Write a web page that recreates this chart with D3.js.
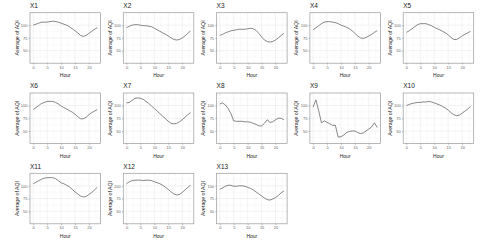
<!DOCTYPE html>
<html>
<head>
<meta charset="utf-8">
<script src="https://cdn.jsdelivr.net/npm/d3@7"></script>
<style>
  body { margin: 0; background: #fff; }
  text { font-family: "Liberation Sans", Arial, sans-serif; }
</style>
</head>
<body>
<div id="chart"></div>
<script>
// ============ Data =====================
var hours = [0,1,2,3,4,5,6,7,8,9,10,11,12,13,14,15,16,17,18,19,20,21,22,23];

var x1  = [100,102,104,106,106,106,107,108,107,106,104,102,100,97,93,89,85,80,78,80,84,88,92,95];
var x2  = [95,98,100,101,101,100,99,99,98,97,94,91,88,85,82,79,75,72,71,72,75,79,84,89];
var x3  = [80,82,85,87,89,90,91,92,92,92,93,94,93,90,84,77,71,68,67,68,71,75,80,84];
var x4  = [91,95,99,103,106,107,107,106,105,103,100,98,96,93,89,84,79,75,74,76,79,82,86,89];
var x5  = [86,89,93,97,101,103,103,103,101,99,96,93,91,88,85,81,76,72,72,75,79,82,85,88];
var x6  = [92,96,100,104,106,108,108,108,106,103,99,96,93,90,87,83,78,74,74,77,82,86,89,92];
var x7  = [105,106,110,114,115,114,112,108,104,99,94,89,84,79,74,69,65,64,65,68,72,77,82,86];
var x8  = [103,105,101,94,84,70,69,69,69,68,68,67,65,63,60,60,65,72,67,68,72,75,75,72];
var x9  = [97,111,90,66,70,67,64,61,61,38,39,42,47,49,50,50,47,45,46,50,54,58,66,57];
var x10 = [100,102,104,105,106,106,107,107,108,107,105,103,101,98,95,91,86,82,80,81,85,89,93,98];
var x11 = [104,107,110,113,115,116,116,116,114,110,106,104,101,98,93,88,84,80,78,79,83,87,92,97];
var x12 = [104,108,110,111,111,111,110,111,111,110,108,106,104,101,97,93,88,84,82,83,87,92,97,101];
var x13 = [93,96,99,101,101,99,99,100,100,99,97,95,92,88,84,80,76,73,72,74,77,81,86,90];

var titles = ["X1","X2","X3","X4","X5","X6","X7","X8","X9","X10","X11","X12","X13"];
var seriesList = [x1,x2,x3,x4,x5,x6,x7,x8,x9,x10,x11,x12,x13];

var xTicks = [0,5,10,15,20];
var xMinor = [2.5,7.5,12.5,17.5,22.5];
var yTicks = [50,75,100];
var yMinor = [37.5,62.5,87.5,112.5];

//============ Set up chart =====================
var svgWidth = 480;
var svgHeight = 242;
var nCols = 5;
var colStep = 93.3;
var rowStep = 80.3;

var panel = { left: 30, top: 12.7, width: 70.5, height: 50.5 };

var svg = d3.select("#chart")
  .append("svg")
  .attr("width", svgWidth)
  .attr("height", svgHeight);

// ylim(30,120) with ggplot's 5% expansion, x 0..23 likewise
var xScale = d3.scaleLinear().domain([-1.15, 24.15]).range([0, panel.width]);
var yScale = d3.scaleLinear().domain([25.5, 124.5]).range([panel.height, 0]);

var line = d3.line()
  .x((d, i) => xScale(hours[i]))
  .y(d => yScale(d));

seriesList.forEach(function(values, k) {
  var col = k % nCols;
  var row = Math.floor(k / nCols);
  var g = svg.append("g")
    .attr("transform", `translate(${panel.left + col * colStep}, ${panel.top + row * rowStep})`);

  // minor grid
  g.selectAll(".vminor").data(xMinor).enter().append("line")
    .attr("x1", d => xScale(d)).attr("x2", d => xScale(d))
    .attr("y1", 0).attr("y2", panel.height)
    .attr("stroke", "#f3f3f3").attr("stroke-width", 0.4);
  g.selectAll(".hminor").data(yMinor).enter().append("line")
    .attr("y1", d => yScale(d)).attr("y2", d => yScale(d))
    .attr("x1", 0).attr("x2", panel.width)
    .attr("stroke", "#f3f3f3").attr("stroke-width", 0.4);

  // major grid
  g.selectAll(".vmajor").data(xTicks).enter().append("line")
    .attr("x1", d => xScale(d)).attr("x2", d => xScale(d))
    .attr("y1", 0).attr("y2", panel.height)
    .attr("stroke", "#e6e6e6").attr("stroke-width", 0.5);
  g.selectAll(".hmajor").data(yTicks).enter().append("line")
    .attr("y1", d => yScale(d)).attr("y2", d => yScale(d))
    .attr("x1", 0).attr("x2", panel.width)
    .attr("stroke", "#e6e6e6").attr("stroke-width", 0.5);

  // the line
  g.append("path")
    .datum(values)
    .attr("d", line)
    .attr("fill", "none")
    .attr("stroke", "#555")
    .attr("stroke-width", 0.7);

  // border
  g.append("rect")
    .attr("width", panel.width).attr("height", panel.height)
    .attr("fill", "none")
    .attr("stroke", "#9a9a9a")
    .attr("stroke-width", 0.7);

  // axes
  var bottomAxis = d3.axisBottom(xScale).tickValues(xTicks).tickSize(1.3).tickPadding(1.2);
  var leftAxis = d3.axisLeft(yScale).tickValues(yTicks).tickSize(1.3).tickPadding(1.2);

  var xa = g.append("g")
    .attr("transform", `translate(0, ${panel.height})`)
    .call(bottomAxis);
  var ya = g.append("g").call(leftAxis);

  [xa, ya].forEach(function(a) {
    a.select(".domain").remove();
    a.selectAll(".tick line").attr("stroke", "#777").attr("stroke-width", 0.5);
    a.selectAll(".tick text")
      .attr("fill", "#666")
      .style("font-size", "4px")
      .style("font-family", "Liberation Sans, Arial, sans-serif");
  });

  // title
  g.append("text")
    .attr("x", 0)
    .attr("y", -4.7)
    .attr("fill", "#222")
    .style("font-size", "6.5px")
    .text(titles[k]);

  // axis labels
  g.append("text")
    .attr("x", panel.width / 2)
    .attr("y", panel.height + 14)
    .attr("text-anchor", "middle")
    .attr("fill", "#222")
    .style("font-size", "5px")
    .text("Hour");

  g.append("text")
    .attr("transform", "rotate(-90)")
    .attr("x", -panel.height / 2)
    .attr("y", -11.5)
    .attr("text-anchor", "middle")
    .attr("fill", "#222")
    .style("font-size", "5.2px")
    .text("Average of AQI");
});
</script>
</body>
</html>
